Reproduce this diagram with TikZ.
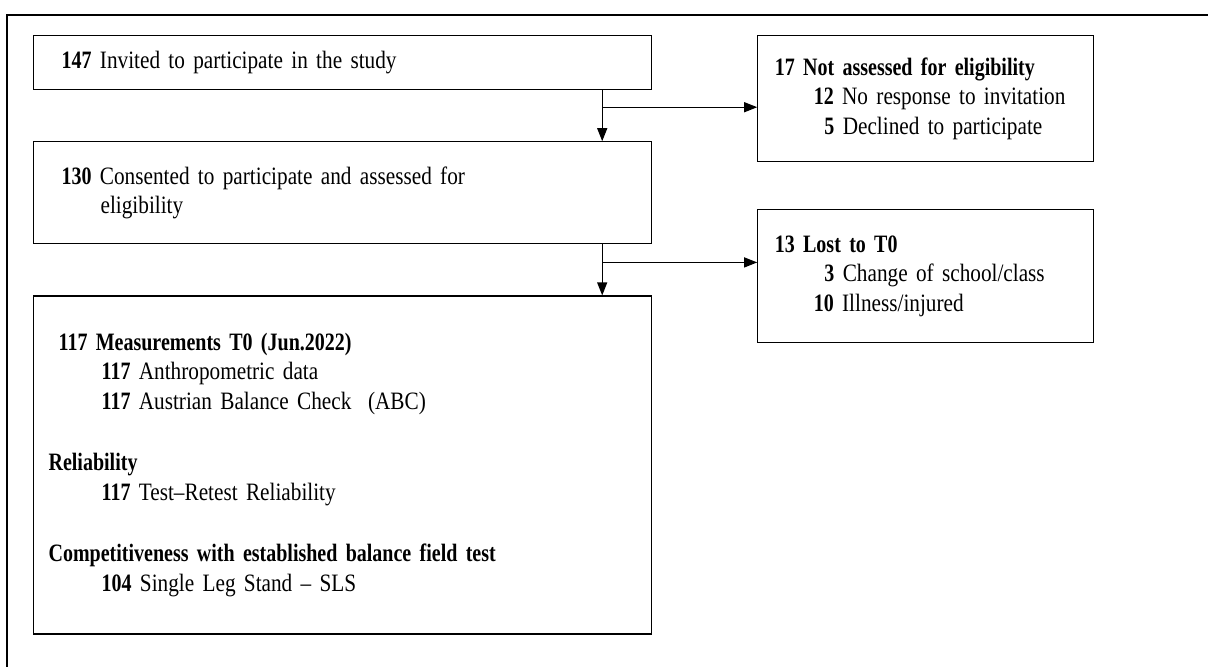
\documentclass[tikz,border=0pt]{standalone}
\usepackage{fontspec}
\setmainfont{Liberation Serif}[FakeStretch=0.85, BoldFont={Liberation Serif Bold}, BoldFeatures={FakeStretch=0.8}]
\usepackage{tikz}
\usetikzlibrary{positioning,arrows.meta}
\hyphenpenalty=10000
\exhyphenpenalty=10000
\tikzset{
    flow/.style={draw, line width=0.6pt, rectangle, align=left, inner ysep=0pt, font=\fontsize{12.5}{14.75}\selectfont},
    arr/.style={-{Triangle[width=5pt,length=6.5pt]}, line width=0.6pt}
}
\begin{document}
\begin{tikzpicture}
        \useasboundingbox (0,0) rectangle (604pt,-333pt);
        \coordinate (ftl) at (3.5pt,-7.5pt);
        \coordinate (fbl) at (3.5pt,-334pt);
        \coordinate (ftr) at (605pt,-7.5pt);
        \draw[line width=1pt] (fbl) -- (ftl) -- (ftr);
        \node[flow, anchor=north west, inner xsep=14pt, text width=281pt, minimum height=27pt] (invited) at (16.5pt,-17.5pt) {\textbf{147} Invited to participate in the study};
        \node[flow, below = 25.5pt of invited, inner xsep=14pt, text width=281pt, minimum height=51pt] (consented) {\textbf{130} Consented to participate and assessed for\\\hspace*{19.5pt}eligibility};
        \node[flow, below = 25.5pt of consented, inner xsep=7.5pt, text width=294pt, minimum height=169pt] (measured) {\hspace*{5pt}\textbf{117 Measurements T0 (Jun.2022)}\\
            \hspace*{26.5pt}\textbf{117} Anthropometric data\\
            \hspace*{26.5pt}\textbf{117} Austrian Balance Check\ \ (ABC)\\[16pt]
            \textbf{Reliability}\\
            \hspace*{26.5pt}\textbf{117} Test--Retest Reliability\\[16pt]
            \textbf{Competitiveness with established balance field test}\\
            \hspace*{26.5pt}\textbf{104} Single Leg Stand -- SLS};
        \node[flow, right = 52.5pt of invited.north east, anchor=north west, inner xsep=8.5pt, text width=151pt, minimum height=63pt] (notassessed) {\textbf{17 Not assessed for eligibility}\\
            \hspace*{19.5pt}\textbf{12} No response to invitation\\
            \hspace*{19.5pt}\hphantom{1}\textbf{5} Declined to participate};
        \node[flow, below = 23.5pt of notassessed, inner xsep=8.5pt, text width=151pt, minimum height=66.5pt] (lost) {\textbf{13 Lost to T0}\\
            \hspace*{19.5pt}\hphantom{1}\textbf{3} Change of school/class\\
            \hspace*{19.5pt}\textbf{10} Illness/injured};
        \coordinate (split1) at ([xshift=-25pt, yshift=-8.5pt]invited.south east);
        \coordinate (split2) at ([xshift=-25pt, yshift=-9pt]consented.south east);
        \draw[arr] ([xshift=-25pt]invited.south east) -- ([xshift=-25pt]consented.north east);
        \draw[arr] ([xshift=-25pt]consented.south east) -- ([xshift=-25pt]measured.north east);
        \draw[arr] (split1) -- (split1 -| notassessed.west);
        \draw[arr] (split2) -- (split2 -| lost.west);
    \end{tikzpicture}
\end{document}
